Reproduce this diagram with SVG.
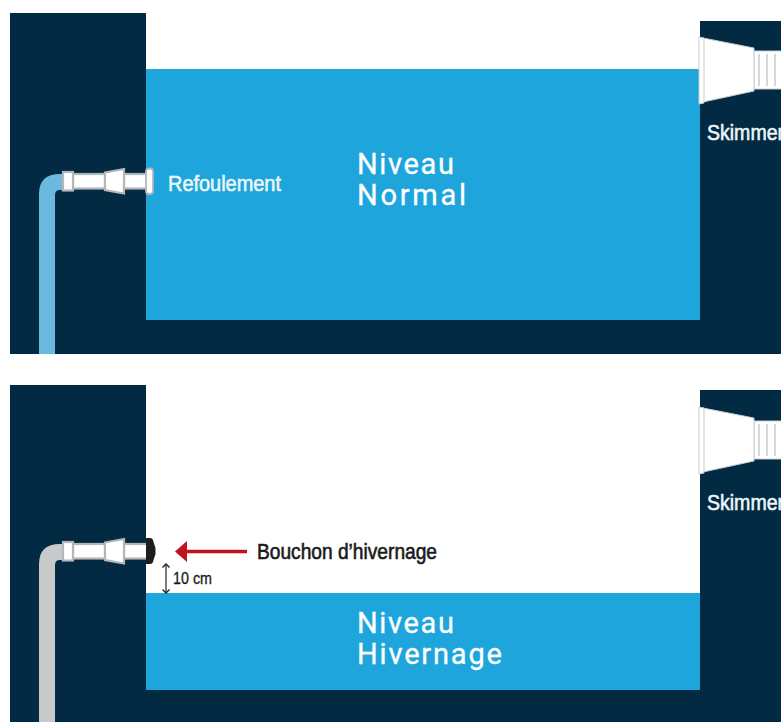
<svg xmlns="http://www.w3.org/2000/svg" width="781" height="722" viewBox="0 0 781 722">
<style>
.dark{fill:#022a42}
.water{fill:#1ea6dc}
.w{fill:#fff;stroke:#b4b7b9;stroke-width:2.2}
.sk{fill:#fff;stroke:#c9cccd;stroke-width:1}
.gl{stroke:#c4c8ca;stroke-width:1.4;fill:none}
.lab{font-family:"Liberation Sans",Arial,sans-serif;font-size:22px;fill:#eaf6fb;stroke:#eaf6fb;stroke-width:.6}
.big{font-family:"Roboto",sans-serif;font-size:29px;fill:#fff;stroke:#fff;stroke-width:.3}
.blk{font-family:"Liberation Sans",Arial,sans-serif;fill:#1a1a1a;stroke:#1a1a1a;stroke-width:.6}
</style>
<defs>
<g id="fitting">
<rect class="w" x="73" y="174" width="32" height="14.500"/>
<rect class="w" x="124" y="174" width="24" height="14.500"/>
<polygon class="w" points="105,172.500 124,169 124,193.500 105,190"/>
<rect class="w" x="63" y="172" width="10" height="18.500"/>
</g>
<g id="skimmer">
<rect class="sk" x="754" y="51" width="30" height="38"/>
<path class="gl" d="M759 54V86M767 54V86M775 54V86"/>
<polygon class="sk" points="703,38 754,48 754,91 703,102"/>
<polygon points="699,37 704,38 704,103 699,104" fill="#fff" stroke="#c9cccd"/>
</g>
</defs>
<rect width="781" height="722" fill="#fff"/>
<g id="panel-normal">
<path class="dark" d="M10 13H146V320H700V21H781V354H10Z"/>
<rect class="water" x="146" y="69" width="554" height="251"/>
</g>
<g id="pipe-normal">
<path d="M39 354V194Q39 174 60 174H66V190H60Q55 190 55 195V354Z" fill="#6cb9e0"/>
<use href="#fitting"/>
<rect x="146" y="168.500" width="7" height="25.500" rx="3" fill="#fff" stroke="#b4b7b9" stroke-width="1.800"/>
</g>
<g id="skimmer-normal"><use href="#skimmer"/></g>
<g id="labels-normal">
<text class="lab" x="168" y="191" textLength="113" lengthAdjust="spacingAndGlyphs">Refoulement</text>
<text class="lab" x="707" y="140" textLength="77" lengthAdjust="spacingAndGlyphs">Skimmer</text>
<text class="big" x="357" y="174" textLength="97">Niveau</text>
<text class="big" x="357" y="205" textLength="109">Normal</text>
</g>
<g id="panel-hivernage">
<path class="dark" d="M10 385H146V690H700V390H781V722H10Z"/>
<rect class="water" x="146" y="593" width="554" height="97"/>
</g>
<g id="pipe-hivernage">
<path d="M39 722V564Q39 544 60 544H66V560H60Q55 560 55 565V722Z" fill="#c8c9cb"/>
<use href="#fitting" y="370"/>
<path d="M146 538H150Q153 538 153.500 542L155.500 548V554L153.500 560Q153 564 150 564H146Z" fill="#1d1d1d"/>
</g>
<g id="skimmer-hivernage"><use href="#skimmer" y="370"/></g>
<g id="connectors">
<path d="M247 551.500H186" stroke="#c1121f" stroke-width="3.500" fill="none"/>
<polygon points="175,551.500 187,541 187,562" fill="#c1121f"/>
<path d="M166 564V593" stroke="#444" stroke-width="1.400" fill="none"/>
<path d="M162.500 567.500L166 564 169.500 567.500M162.500 589.500L166 593 169.500 589.500" stroke="#222" stroke-width="1.400" fill="none"/>
</g>
<g id="labels-hivernage">
<text class="lab" x="707" y="510" textLength="77" lengthAdjust="spacingAndGlyphs">Skimmer</text>
<text class="blk" x="257" y="558.500" font-size="22" textLength="180" lengthAdjust="spacingAndGlyphs">Bouchon d’hivernage</text>
<text class="blk" x="173" y="584" font-size="16" style="stroke-width:.3" textLength="39" lengthAdjust="spacingAndGlyphs">10 cm</text>
<text class="big" x="357" y="633" textLength="97">Niveau</text>
<text class="big" x="357" y="664" textLength="145">Hivernage</text>
</g>
</svg>
